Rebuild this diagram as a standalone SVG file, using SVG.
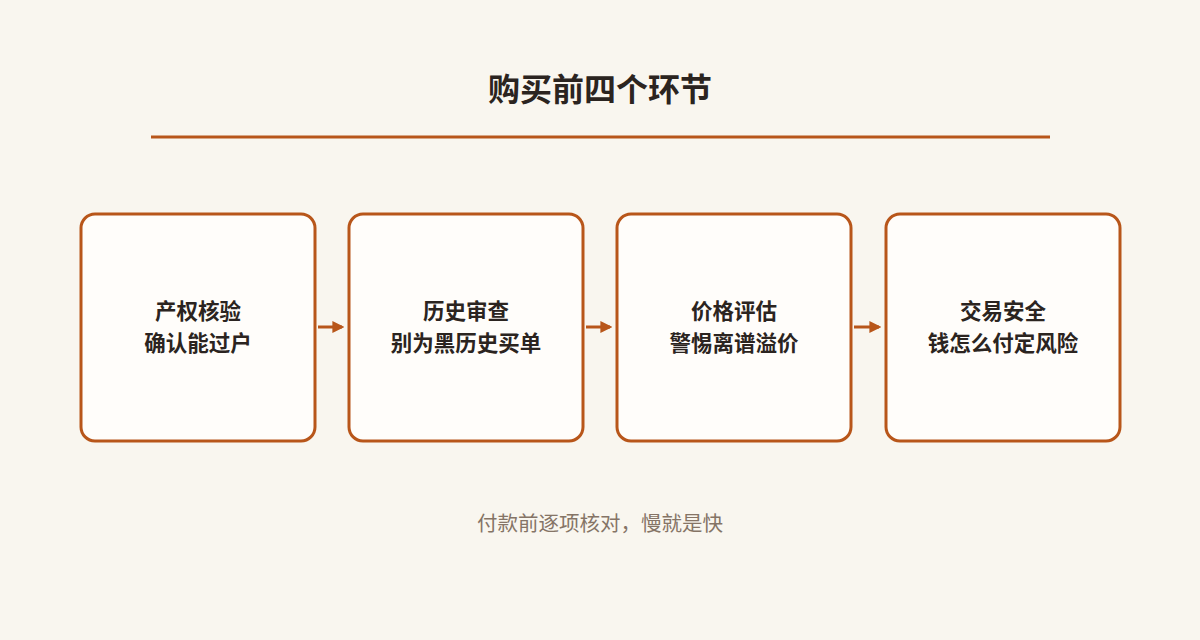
<svg xmlns="http://www.w3.org/2000/svg" width="1200" height="640" viewBox="0 0 1200 640">
<style>
.box{fill:#fffdfa;stroke:#b8561a;stroke-width:3}
.t{font-family:"Noto Sans CJK SC",sans-serif;font-size:21.5px;font-weight:700;fill:#2b2420;text-anchor:middle}
.c{stroke:#b8561a;stroke-width:3;fill:none}
</style>
<defs><marker id="a" viewBox="0 0 10 10" refX="8" refY="5" markerWidth="4" markerHeight="4" orient="auto"><path d="M0,0L10,5L0,10z" fill="#b8561a"/></marker></defs>
<rect width="1200" height="640" fill="#f9f6ef"/>
<text x="600" y="101" font-family="Noto Sans CJK SC,sans-serif" font-size="32" font-weight="700" fill="#2b2420" text-anchor="middle">购买前四个环节</text>
<line x1="151" y1="137" x2="1050" y2="137" stroke="#b8561a" stroke-width="3"/>
<g id="n1"><rect class="box" x="81" y="214" width="234" height="227" rx="14"/><text class="t" x="198" y="319">产权核验</text><text class="t" x="198" y="351">确认能过户</text></g>
<g id="n2"><rect class="box" x="349" y="214" width="234" height="227" rx="14"/><text class="t" x="466" y="319">历史审查</text><text class="t" x="466" y="351">别为黑历史买单</text></g>
<g id="n3"><rect class="box" x="617" y="214" width="234" height="227" rx="14"/><text class="t" x="734" y="319">价格评估</text><text class="t" x="734" y="351">警惕离谱溢价</text></g>
<g id="n4"><rect class="box" x="886" y="214" width="234" height="227" rx="14"/><text class="t" x="1003" y="319">交易安全</text><text class="t" x="1003" y="351">钱怎么付定风险</text></g>
<g id="connectors">
<line class="c" x1="318" y1="327" x2="342" y2="327" marker-end="url(#a)"/>
<line class="c" x1="586" y1="327" x2="610" y2="327" marker-end="url(#a)"/>
<line class="c" x1="854" y1="327" x2="879" y2="327" marker-end="url(#a)"/>
</g>
<text x="600" y="531" font-family="Noto Sans CJK SC,sans-serif" font-size="20.5" fill="#857466" text-anchor="middle">付款前逐项核对，慢就是快</text>
</svg>
